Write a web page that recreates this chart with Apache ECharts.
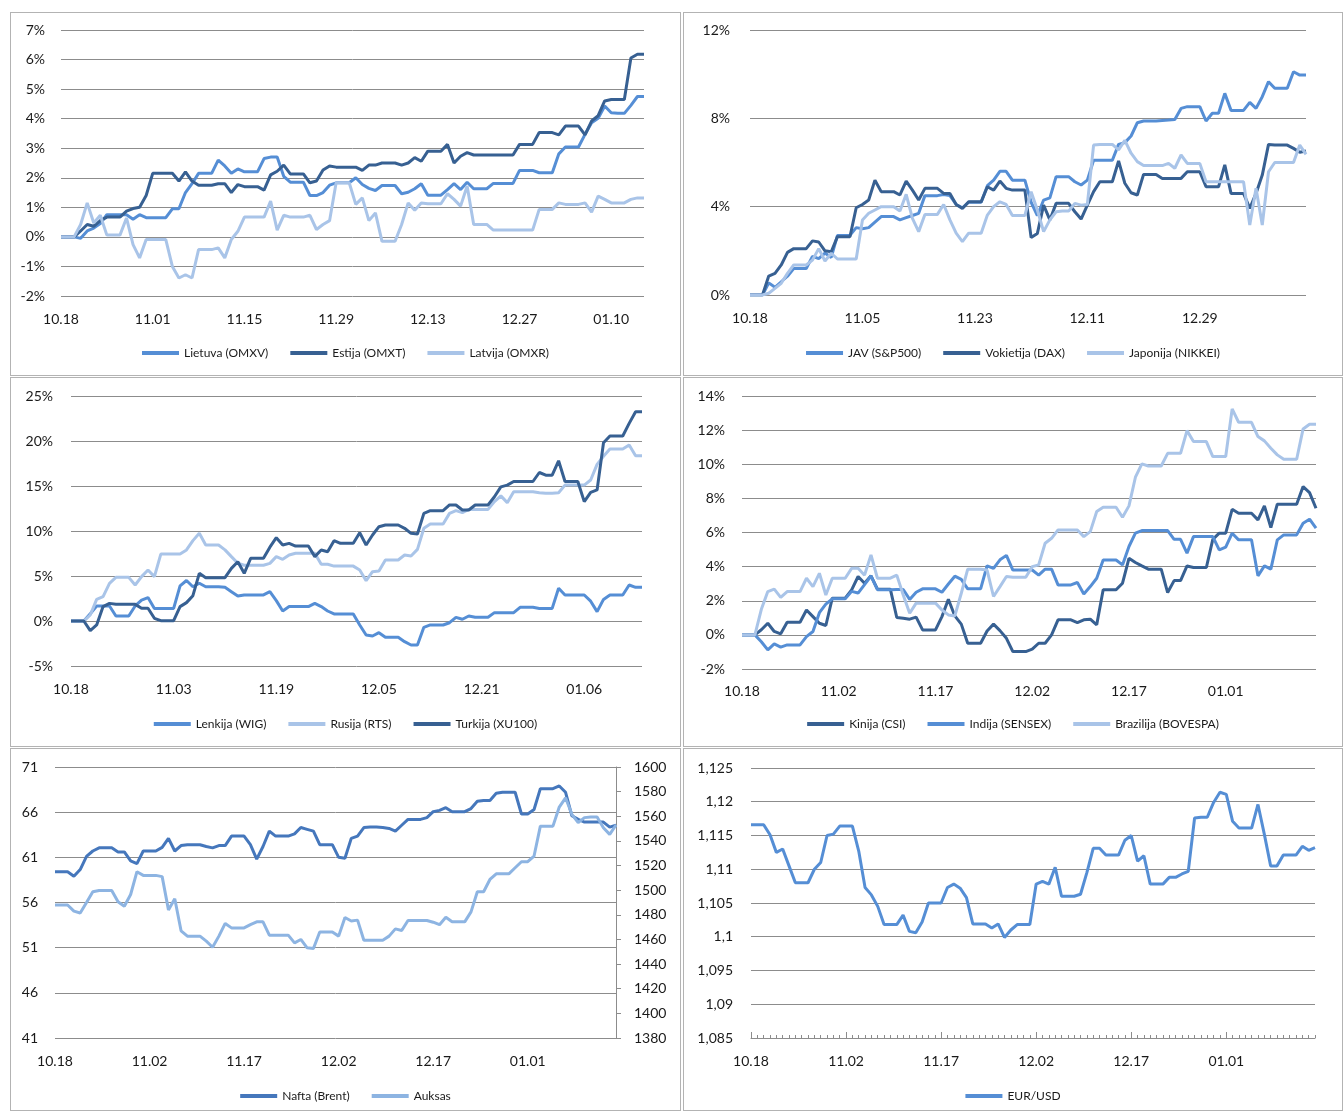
<!DOCTYPE html>
<html><head><meta charset="utf-8">
<script src="https://cdn.jsdelivr.net/npm/echarts@6/dist/echarts.min.js"></script>
<style>
html,body{margin:0;padding:0;background:#fff}
body{width:1343px;height:1111px;position:relative;overflow:hidden}
.p{position:absolute;box-sizing:border-box;border:1px solid #b3b3b3;background:#fff}
.p > div{position:absolute;left:0;top:0;right:0;bottom:0}
</style></head><body>
<div class="p" style="left:10px;top:12px;width:671px;height:364px"><div id="c1"></div></div>
<div class="p" style="left:683px;top:12px;width:660px;height:364px"><div id="c2"></div></div>
<div class="p" style="left:10px;top:377px;width:671px;height:370px"><div id="c3"></div></div>
<div class="p" style="left:683px;top:377px;width:660px;height:370px"><div id="c4"></div></div>
<div class="p" style="left:10px;top:748px;width:671px;height:363px"><div id="c5"></div></div>
<div class="p" style="left:683px;top:748px;width:660px;height:363px"><div id="c6"></div></div>
<script>
// ---- categories: calendar days 2019-10-18 .. 2020-01-15 ----
const days = [];
for (let i = 0; i < 90; i++) {
  const d = new Date(2019, 9, 18 + i);
  days.push(String(d.getMonth() + 1).padStart(2, '0') + '.' + String(d.getDate()).padStart(2, '0'));
}

// ---- Panel 1: Baltic indices (% change) ----
const lietuva = [0,0,0,-0.05,0.2,0.3,0.45,0.75,0.75,0.75,
 0.75,0.6,0.75,0.65,0.65,0.65,0.65,0.95,0.95,1.5,
 1.8,2.15,2.15,2.15,2.6,2.4,2.15,2.3,2.2,2.2,
 2.2,2.65,2.7,2.7,2.05,1.85,1.85,1.85,1.4,1.4,
 1.5,1.75,1.83,1.83,1.83,2.0,1.77,1.64,1.57,1.74,
 1.74,1.74,1.46,1.51,1.63,1.8,1.41,1.41,1.41,1.6,
 1.8,1.6,1.85,1.63,1.63,1.63,1.81,1.81,1.81,1.81,
 2.25,2.25,2.25,2.17,2.17,2.17,2.81,3.04,3.04,3.04,
 3.47,3.86,4.01,4.43,4.2,4.18,4.18,4.45,4.75,4.75];
const estija = [0,0,0,0.2,0.42,0.36,0.55,0.67,0.67,0.67,
 0.87,0.96,1.0,1.4,2.15,2.15,2.15,2.15,1.89,2.2,
 1.89,1.75,1.75,1.75,1.8,1.8,1.5,1.77,1.7,1.7,
 1.7,1.58,2.1,2.22,2.43,2.13,2.13,2.13,1.83,1.89,
 2.26,2.4,2.36,2.36,2.36,2.36,2.25,2.43,2.43,2.5,
 2.5,2.5,2.43,2.5,2.68,2.56,2.9,2.9,2.9,3.13,
 2.5,2.73,2.85,2.77,2.77,2.77,2.77,2.77,2.77,2.77,
 3.13,3.13,3.13,3.53,3.53,3.53,3.45,3.75,3.75,3.75,
 3.45,3.92,4.1,4.6,4.65,4.65,4.65,6.05,6.18,6.18];
const latvija = [0,0,0,0.42,1.15,0.47,0.73,0.06,0.06,0.06,
 0.64,-0.26,-0.71,-0.09,-0.09,-0.09,-0.09,-1.0,-1.39,-1.28,
 -1.39,-0.43,-0.43,-0.43,-0.37,-0.71,-0.09,0.19,0.67,0.67,
 0.67,0.67,1.21,0.23,0.73,0.67,0.67,0.67,0.73,0.25,
 0.42,0.55,1.83,1.83,1.83,1.1,1.32,0.55,0.81,-0.15,
 -0.15,-0.15,0.42,1.15,0.9,1.15,1.12,1.12,1.12,1.46,
 1.27,1.04,1.72,0.42,0.42,0.42,0.23,0.23,0.23,0.23,
 0.23,0.23,0.23,0.93,0.93,0.93,1.15,1.1,1.1,1.1,
 1.15,0.84,1.38,1.27,1.15,1.15,1.15,1.27,1.32,1.32];

// ---- Panel 2: developed markets ----
const jav = [0,0,0,0.55,0.35,0.6,0.85,1.2,1.2,1.2,
 1.75,1.65,1.9,1.7,2.7,2.7,2.7,3.05,3.0,3.05,
 3.3,3.55,3.55,3.55,3.4,3.5,3.6,3.7,4.5,4.5,
 4.5,4.55,4.5,4.1,3.95,4.2,4.2,4.2,4.95,5.2,
 5.6,5.6,5.2,5.2,5.2,4.2,3.6,4.3,4.4,5.36,
 5.36,5.36,5.13,4.98,5.2,6.1,6.1,6.1,6.1,6.82,
 6.9,7.2,7.8,7.88,7.88,7.88,7.9,7.92,7.95,8.45,
 8.53,8.53,8.53,7.88,8.23,8.23,9.13,8.36,8.36,8.36,
 8.72,8.45,8.98,9.66,9.36,9.36,9.36,10.11,9.96,9.96];
const vokietija = [0,0,0,0.86,0.98,1.36,1.93,2.1,2.1,2.1,
 2.45,2.4,2.0,1.96,2.64,2.64,2.64,3.95,4.1,4.3,
 5.2,4.68,4.68,4.68,4.53,5.16,4.75,4.3,4.83,4.83,
 4.83,4.6,4.6,4.1,3.92,4.22,4.22,4.22,4.9,4.75,
 5.16,4.83,4.75,4.75,4.75,2.6,2.79,4.07,3.4,4.15,
 4.15,4.15,3.77,3.44,4.07,4.68,5.13,5.13,5.13,6.07,
 5.06,4.63,4.53,5.46,5.46,5.46,5.28,5.28,5.28,5.28,
 5.58,5.58,5.58,4.9,4.9,4.9,5.89,4.6,4.6,4.6,
 3.92,4.6,5.43,6.82,6.79,6.79,6.79,6.64,6.46,6.52];
const japonija = [0,0,0,0.08,0.3,0.53,0.98,1.36,1.36,1.36,
 1.58,2.1,1.54,1.89,1.63,1.63,1.63,1.63,3.4,3.7,
 3.85,4.0,4.0,4.0,3.8,4.56,3.47,2.87,3.65,3.65,
 3.65,4.1,3.4,2.8,2.42,2.8,2.8,2.8,3.62,4.0,
 4.22,4.1,3.6,3.6,3.6,4.68,3.85,2.87,3.4,3.77,
 3.8,3.8,4.15,4.07,4.1,6.79,6.82,6.82,6.82,6.57,
 7.0,6.42,6.04,5.86,5.86,5.86,5.86,5.96,5.74,6.34,
 5.96,5.96,5.96,5.13,5.13,5.13,5.13,5.13,5.13,5.13,
 3.17,4.83,3.17,5.58,6.0,6.0,6.0,6.0,6.79,6.37];

// ---- Panel 3: emerging Europe ----
const lenkija = [0,0,0,0.8,1.67,1.67,1.67,0.56,0.56,0.56,
 1.67,2.33,2.6,1.4,1.4,1.4,1.4,3.9,4.5,3.8,
 4.2,3.8,3.8,3.8,3.74,3.26,2.78,2.9,2.9,2.9,
 2.9,3.26,2.26,1.11,1.6,1.6,1.6,1.6,1.96,1.6,
 1.11,0.78,0.78,0.78,0.78,-0.44,-1.56,-1.67,-1.3,-1.81,
 -1.81,-1.81,-2.3,-2.67,-2.67,-0.7,-0.44,-0.44,-0.44,-0.19,
 0.41,0.19,0.56,0.41,0.41,0.41,0.93,0.93,0.93,0.93,
 1.52,1.52,1.52,1.4,1.4,1.4,3.63,2.89,2.89,2.89,
 2.89,2.2,1.04,2.4,2.89,2.89,2.89,4.0,3.74,3.74];
const rusija = [0,0,0,0.67,2.4,2.7,4.19,4.85,4.85,4.85,
 4.0,4.93,5.67,4.93,7.44,7.44,7.44,7.44,7.9,8.93,
 9.74,8.44,8.44,8.44,7.9,7.15,6.41,6.2,6.2,6.2,
 6.2,6.4,7.15,6.85,7.33,7.52,7.52,7.52,7.52,6.3,
 6.3,6.1,6.1,6.1,6.1,5.67,4.48,5.48,5.56,6.78,
 6.78,6.78,7.33,7.22,7.96,10.3,10.78,10.78,10.78,11.96,
 12.26,12.04,12.4,12.4,12.4,12.4,13.26,13.9,13.15,14.37,
 14.37,14.37,14.37,14.26,14.19,14.19,14.26,15.1,15.1,15.1,
 15.1,15.67,17.4,18.3,19.1,19.1,19.1,19.56,18.37,18.37];
const turkija = [0,0,0,-1.07,-0.44,1.6,1.96,1.85,1.85,1.85,
 1.85,1.41,1.41,0.3,0.04,0.04,0.04,1.6,2.04,2.81,
 5.3,4.81,4.81,4.81,4.81,5.85,6.59,5.3,6.96,6.96,
 6.96,8.2,9.26,8.44,8.63,8.33,8.33,8.33,7.15,7.89,
 7.7,8.93,8.63,8.63,8.63,9.81,8.44,9.56,10.48,10.67,
 10.67,10.67,10.3,9.74,9.67,11.96,12.26,12.26,12.26,12.89,
 12.89,12.33,12.33,12.89,12.89,12.89,13.8,14.9,15.1,15.5,
 15.5,15.5,15.5,16.5,16.2,16.2,17.8,15.5,15.5,15.5,
 13.26,14.3,14.56,19.8,20.56,20.56,20.56,21.96,23.26,23.26];

// ---- Panel 4: BRIC ----
const kinija = [0,0,0,0.3,0.68,0.2,0.06,0.74,0.74,0.74,
 1.46,1.07,0.68,0.55,2.15,2.15,2.15,2.64,3.42,3.03,
 3.46,2.68,2.68,2.68,1.02,0.98,0.92,1.04,0.29,0.29,
 0.29,1.07,2.09,1.11,0.63,-0.49,-0.49,-0.49,0.23,0.63,
 0.25,-0.2,-0.98,-0.98,-0.98,-0.84,-0.49,-0.49,0,0.88,
 0.88,0.88,0.72,0.88,0.92,0.59,2.64,2.64,2.64,3.03,
 4.49,4.24,4.04,3.85,3.85,3.85,2.48,3.18,3.18,4.04,
 3.95,3.95,3.95,5.6,5.96,5.96,7.36,7.13,7.13,7.13,
 6.74,7.56,6.29,7.66,7.66,7.66,7.66,8.69,8.34,7.42];
const indija = [0,0,0,-0.4,-0.88,-0.53,-0.72,-0.59,-0.59,-0.59,
 -0.1,0.2,1.3,1.8,2.11,2.11,2.11,2.55,2.45,2.95,
 3.45,2.65,2.65,2.65,2.66,2.66,2.08,2.5,2.7,2.7,
 2.7,2.5,2.98,3.44,3.25,2.7,2.7,2.7,4.05,3.9,
 4.4,4.66,3.8,3.8,3.8,3.8,3.5,3.85,3.85,2.93,
 2.93,2.93,3.07,2.4,2.83,3.32,4.39,4.39,4.39,4.1,
 5.18,5.96,6.11,6.11,6.11,6.11,6.11,5.6,5.6,4.79,
 5.76,5.76,5.76,5.76,4.98,5.14,5.96,5.57,5.57,5.57,
 3.46,4.04,3.85,5.57,5.86,5.86,5.86,6.54,6.78,6.25];
const brazilija = [0,0,0,1.5,2.54,2.68,2.2,2.54,2.54,2.54,
 3.32,2.83,3.61,2.34,3.32,3.32,3.32,3.9,3.9,3.5,
 4.69,3.32,3.32,3.32,3.5,2.34,1.27,1.86,1.86,1.86,
 1.86,1.46,1.17,1.11,2.44,3.85,3.85,3.85,3.8,2.25,
 2.83,3.42,3.38,3.38,3.38,4.0,4.1,5.37,5.66,6.15,
 6.15,6.15,6.15,5.76,6.05,7.23,7.48,7.48,7.48,6.89,
 7.56,9.24,10.02,9.9,9.9,9.9,10.64,10.64,10.64,11.97,
 11.33,11.33,11.33,10.45,10.45,10.45,13.24,12.46,12.46,12.46,
 11.62,11.37,10.94,10.55,10.29,10.29,10.29,12.07,12.34,12.34];

// ---- Panel 5: Brent oil (USD) and gold (USD) ----
const nafta = [59.4,59.4,59.4,58.9,59.65,61.1,61.7,62.05,62.05,62.05,
 61.6,61.6,60.6,60.3,61.7,61.7,61.7,62.1,63.1,61.7,
 62.3,62.4,62.4,62.4,62.2,62.05,62.3,62.3,63.35,63.35,
 63.35,62.4,60.8,62.2,63.9,63.35,63.35,63.35,63.6,64.3,
 64.1,63.9,62.4,62.4,62.4,61.0,60.9,63.1,63.35,64.3,
 64.35,64.35,64.3,64.2,63.9,64.55,65.2,65.2,65.2,65.4,
 66.05,66.2,66.5,66.05,66.05,66.05,66.4,67.2,67.3,67.3,
 68.1,68.2,68.2,68.2,65.8,65.8,66.3,68.6,68.6,68.6,
 68.9,68.2,65.6,65.2,64.9,64.9,64.9,64.9,64.35,64.55];
const auksas = [1488,1488,1488,1483,1481.5,1490,1498.7,1499.8,1499.8,1499.8,
 1490.6,1487,1496.5,1515,1512,1512,1512,1511,1484,1493,
 1467,1462.7,1462.7,1462.7,1458.6,1453.7,1462.7,1473,1469.4,1469.4,
 1469.4,1472,1474.3,1474.3,1463.5,1463.5,1463.5,1463.5,1457.2,1460,
 1453.2,1452.6,1466,1466,1466,1462.7,1477.8,1475,1475.7,1459.4,
 1459.4,1459.4,1459.4,1462.7,1468.6,1467.3,1475.4,1475.4,1475.4,1475.4,
 1474,1472,1478,1474.3,1474.3,1474.3,1482.4,1498.7,1498.7,1508.7,
 1513.3,1513.3,1513.3,1518.2,1523.1,1523.1,1527.7,1552,1552,1552,
 1567.5,1575,1561.6,1554.8,1558.9,1559.4,1559.4,1550.7,1545.3,1552.9];

// ---- Panel 6: EUR/USD ----
const eurusd = [1.1166,1.1166,1.1166,1.1151,1.1125,1.1130,1.1105,1.1080,1.1080,1.1080,
 1.1100,1.1110,1.1150,1.1152,1.1164,1.1164,1.1164,1.1127,1.1073,1.1062,
 1.1045,1.1018,1.1018,1.1018,1.1032,1.1008,1.1006,1.1022,1.1050,1.1050,
 1.1050,1.1073,1.1078,1.1072,1.1058,1.1019,1.1019,1.1019,1.1013,1.1019,
 1.0999,1.1010,1.1018,1.1018,1.1018,1.1078,1.1082,1.1078,1.1103,1.1060,
 1.1060,1.1060,1.1063,1.1095,1.1131,1.1131,1.1121,1.1121,1.1121,1.1143,
 1.1150,1.1112,1.1120,1.1078,1.1078,1.1078,1.1088,1.1088,1.1093,1.1097,
 1.1176,1.1177,1.1177,1.1199,1.1214,1.1211,1.1171,1.1161,1.1161,1.1161,
 1.1196,1.1152,1.1105,1.1105,1.1121,1.1121,1.1121,1.1134,1.1128,1.1132];

// ---- styling ----
const FONT = 'Lato, "Open Sans", sans-serif';
const TXT = '#1a1a1a';
const GRID = '#8c8c8c';
const MED = '#558ED5', DARK = '#376092', LIGHT = '#A9C4E8';
const OIL = '#4577BC', GOLD = '#8DB4E2';
const pct = v => v + '%';

function xAx(interval, margin, extra) {
  return Object.assign({
    type: 'category', data: days, boundaryGap: false,
    axisLine: {show: false}, axisTick: {show: false},
    axisLabel: {interval: interval, margin: margin, color: TXT, fontSize: 14, fontFamily: FONT},
    splitLine: {show: false}
  }, extra || {});
}
function yAx(min, max, step, margin, fmt, extra) {
  return Object.assign({
    type: 'value', min: min, max: max, interval: step,
    axisLine: {show: false}, axisTick: {show: false},
    axisLabel: {margin: margin, color: TXT, fontSize: 14, fontFamily: FONT, formatter: fmt},
    splitLine: {show: true, lineStyle: {color: GRID, width: 1}}
  }, extra || {});
}
function ln(name, data, color, extra) {
  return Object.assign({
    type: 'line', name: name, data: data, symbol: 'none', showSymbol: false,
    lineStyle: {color: color, width: 3}, itemStyle: {color: color}, animation: false
  }, extra || {});
}
function lg(top) {
  return {top: top, left: 'center', icon: 'rect', itemWidth: 37, itemHeight: 4, itemGap: 22,
    textStyle: {fontSize: 12, color: TXT, fontFamily: FONT}};
}
function mk(id, opt) {
  const c = echarts.init(document.getElementById(id), null, {renderer: 'canvas'});
  opt.animation = false;
  c.setOption(opt);
}

mk('c1', {
  grid: {left: 50, right: 36, top: 17, bottom: 79, outerBoundsMode: 'none'},
  legend: lg(329),
  xAxis: xAx(13, 16),
  yAxis: yAx(-2, 7, 1, 16, pct),
  series: [ln('Lietuva (OMXV)', lietuva, MED), ln('Estija (OMXT)', estija, DARK), ln('Latvija (OMXR)', latvija, LIGHT)]
});
mk('c2', {
  grid: {left: 66, right: 36, top: 17, bottom: 80, outerBoundsMode: 'none'},
  legend: lg(329),
  xAxis: xAx(17, 16),
  yAxis: yAx(0, 12, 4, 20, pct),
  series: [ln('JAV (S&P500)', jav, MED), ln('Vokietija (DAX)', vokietija, DARK), ln('Japonija (NIKKEI)', japonija, LIGHT)]
});
mk('c3', {
  grid: {left: 60, right: 38, top: 18, bottom: 80, outerBoundsMode: 'none'},
  legend: lg(335),
  xAxis: xAx(15, 16),
  yAxis: yAx(-5, 25, 5, 18, pct),
  series: [ln('Lenkija (WIG)', lenkija, MED), ln('Rusija (RTS)', rusija, LIGHT), ln('Turkija (XU100)', turkija, DARK)]
});
mk('c4', {
  grid: {left: 58, right: 26, top: 18, bottom: 77, outerBoundsMode: 'none'},
  legend: lg(335),
  xAxis: xAx(14, 15),
  yAxis: yAx(-2, 14, 2, 17, pct),
  series: [ln('Kinija (CSI)', kinija, DARK), ln('Indija (SENSEX)', indija, MED), ln('Brazilija (BOVESPA)', brazilija, LIGHT)]
});
mk('c5', {
  grid: {left: 44, right: 64, top: 18, bottom: 72, outerBoundsMode: 'none'},
  legend: lg(336),
  xAxis: xAx(14, 16),
  yAxis: [
    yAx(41, 71, 5, 17, v => v),
    yAx(1380, 1600, 20, 18, v => v, {
      position: 'right', splitLine: {show: false},
      axisLine: {show: true, lineStyle: {color: GRID, width: 1}},
      axisTick: {show: true, length: 5, lineStyle: {color: GRID}}
    })
  ],
  series: [ln('Nafta (Brent)', nafta, OIL), ln('Auksas', auksas, GOLD, {yAxisIndex: 1})]
});
mk('c6', {
  grid: {left: 67, right: 27, top: 19, bottom: 72, outerBoundsMode: 'none'},
  legend: lg(336),
  xAxis: [
    xAx(14, 16, {
      axisLine: {show: true, lineStyle: {color: GRID, width: 1}},
      axisTick: {show: true, interval: 0, inside: true, length: 3, lineStyle: {color: GRID}}
    }),
    xAx(14, 16, {
      position: 'bottom', axisLabel: {show: false},
      axisTick: {show: true, interval: 14, inside: true, length: 6, lineStyle: {color: GRID}}
    })
  ],
  yAxis: yAx(1.085, 1.125, 0.005, 18, v => String(+v.toFixed(3)).replace('.', ',')),
  series: [ln('EUR/USD', eurusd, MED)]
});
</script>
</body></html>
